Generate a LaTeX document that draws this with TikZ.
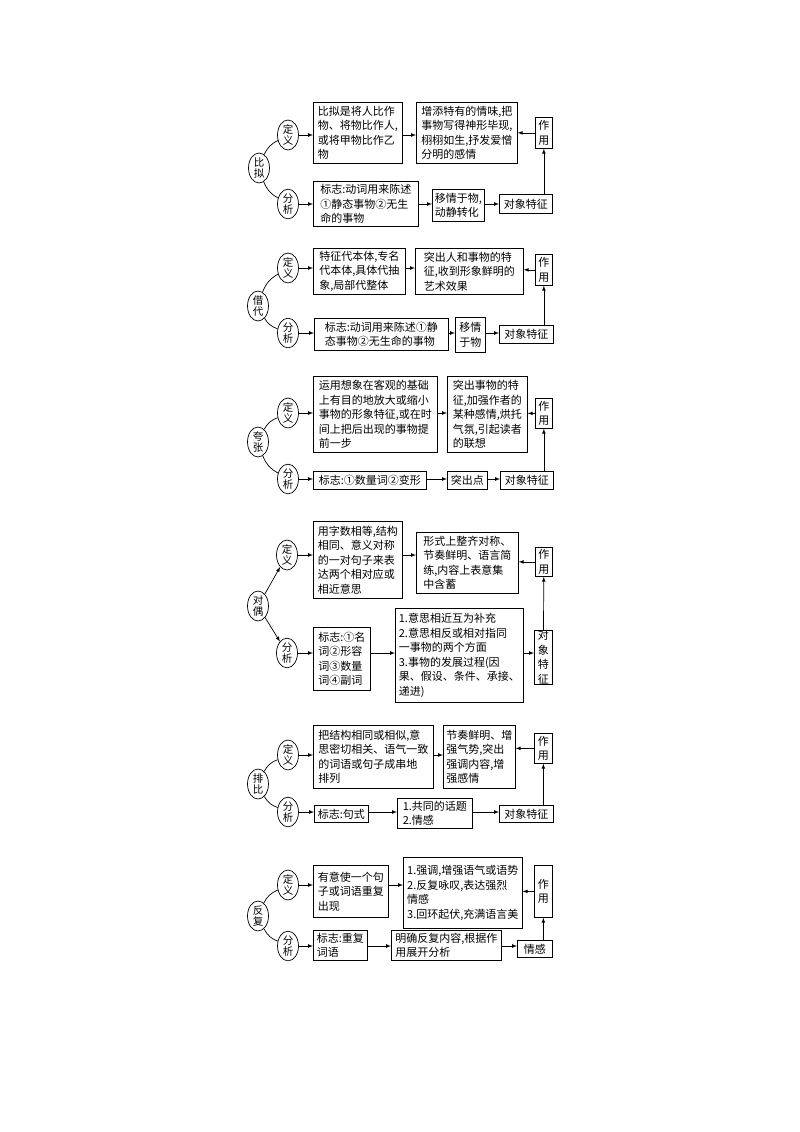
\documentclass[tikz,border=0pt]{standalone}
\usepackage{fontspec}
\setmainfont{Noto Sans CJK SC}
\usetikzlibrary{arrows,shapes.geometric}

\begin{document}
\begin{tikzpicture}[x=1pt, y=-1pt, >=latex,
    kuang/.style={draw, line width=.7pt, anchor=north west, align=left, inner sep=0pt,
      font=\fontsize{11}{14.5}\selectfont},
    quan/.style={draw, ellipse, line width=.7pt, inner sep=0pt, minimum width=21pt,
      minimum height=27pt, align=center, font=\fontsize{10.5}{11.5}\selectfont}]
  \useasboundingbox (0,0) rectangle (800,1132);

  % 比拟
  \node[quan, minimum height=30pt] (A) at (259,168) {比\\拟};
  \node[quan] (AD) at (288,135) {定\\义};
  \node[quan] (AF) at (288,204) {分\\析};
  \node[kuang, minimum width=89pt, minimum height=61pt] (A1) at (313,102) {比拟是将人比作\\物、将物比作人,\\或将甲物比作乙\\物};
  \node[kuang, minimum width=101pt, minimum height=61pt] (A2) at (416,102) {增添特有的情味,把\\事物写得神形毕现,\\栩栩如生,抒发爱憎\\分明的感情};
  \node[kuang, minimum width=17pt, minimum height=31pt] (AZ) at (535,117) {作\\用};
  \node[kuang, minimum width=105pt, minimum height=45pt] (A3) at (313,181) {标志:动词用来陈述\\①静态事物②无生\\命的事物};
  \node[kuang, minimum width=52pt, minimum height=32pt] (A4) at (432,189) {移情于物,\\动静转化};
  \node[kuang, minimum width=53pt, minimum height=19pt] (AT) at (499,194) {对象特征};

  % 借代
  \node[quan, minimum height=30pt] (B) at (258,306) {借\\代};
  \node[quan] (BD) at (288,268) {定\\义};
  \node[quan] (BF) at (288,333) {分\\析};
  \node[kuang, minimum width=92pt, minimum height=46pt] (B1) at (313,248) {特征代本体,专名\\代本体,具体代抽\\象,局部代整体};
  \node[kuang, minimum width=108pt, minimum height=46pt] (B2) at (415,248) {突出人和事物的特\\征,收到形象鲜明的\\艺术效果};
  \node[kuang, minimum width=17pt, minimum height=31pt] (BZ) at (535,254) {作\\用};
  \node[kuang, minimum width=134pt, minimum height=32pt] (B3) at (314,318) {标志:动词用来陈述①静\\态事物②无生命的事物};
  \node[kuang, minimum width=30pt, minimum height=35pt] (B4) at (455,317) {移情\\于物};
  \node[kuang, minimum width=54pt, minimum height=18pt] (BT) at (499,325) {对象特征};

  % 夸张
  \node[quan, minimum height=30pt] (C) at (258,442) {夸\\张};
  \node[quan] (CD) at (288,413) {定\\义};
  \node[quan] (CF) at (288,479) {分\\析};
  \node[kuang, minimum width=124pt, minimum height=76pt] (C1) at (313,376) {运用想象在客观的基础\\上有目的地放大或缩小\\事物的形象特征,或在时\\间上把后出现的事物提\\前一步};
  \node[kuang, minimum width=80pt, minimum height=76pt] (C2) at (447,376) {突出事物的特\\征,加强作者的\\某种感情,烘托\\气氛,引起读者\\的联想};
  \node[kuang, minimum width=17pt, minimum height=30pt] (CZ) at (535,398) {作\\用};
  \node[kuang, minimum width=113pt, minimum height=18pt] (C3) at (313,471) {标志:①数量词②变形};
  \node[kuang, minimum width=40pt, minimum height=18pt] (C4) at (447,471) {突出点};
  \node[kuang, minimum width=53pt, minimum height=18pt] (CT) at (500,471) {对象特征};

  % 对偶
  \node[quan, minimum height=30pt] (D) at (258,606) {对\\偶};
  \node[quan] (DD) at (287,555) {定\\义};
  \node[quan] (DF) at (287,653) {分\\析};
  \node[kuang, minimum width=89pt, minimum height=77pt] (D1) at (313,521) {用字数相等,结构\\相同、意义对称\\的一对句子来表\\达两个相对应或\\相近意思};
  \node[kuang, minimum width=102pt, minimum height=61pt] (D2) at (416,532) {形式上整齐对称、\\节奏鲜明、语言简\\练,内容上表意集\\中含蓄};
  \node[kuang, minimum width=17pt, minimum height=29pt] (DZ) at (535,547) {作\\用};
  \node[kuang, minimum width=57pt, minimum height=63pt] (D3) at (313,627) {标志:①名\\词②形容\\词③数量\\词④副词};
  \node[kuang, minimum width=128pt, minimum height=94pt] (D4) at (395,608) {1.意思相近互为补充\\2.意思相反或相对指同\\一事物的两个方面\\3.事物的发展过程(因\\果、假设、条件、承接、\\递进)};
  \node[kuang, minimum width=18pt, minimum height=52pt] (DT) at (534,630) {对\\象\\特\\征};

  % 排比
  \node[quan, minimum height=30pt] (E) at (258,784) {排\\比};
  \node[quan] (ED) at (288,755) {定\\义};
  \node[quan] (EF) at (288,812) {分\\析};
  \node[kuang, minimum width=120pt, minimum height=63pt] (E1) at (313,725) {把结构相同或相似,意\\思密切相关、语气一致\\的词语或句子成串地\\排列};
  \node[kuang, minimum width=72pt, minimum height=63pt] (E2) at (443,725) {节奏鲜明、增\\强气势,突出\\强调内容,增\\强感情};
  \node[kuang, minimum width=18pt, minimum height=30pt] (EZ) at (534,733) {作\\用};
  \node[kuang, minimum width=54pt, minimum height=17pt] (E3) at (314,805) {标志:句式};
  \node[kuang, minimum width=75pt, minimum height=30pt] (E4) at (397,798) {1.共同的话题\\2.情感};
  \node[kuang, minimum width=54pt, minimum height=17pt] (ET) at (499,805) {对象特征};

  % 反复
  \node[quan, minimum height=30pt] (F) at (258,916) {反\\复};
  \node[quan] (FD) at (288,885) {定\\义};
  \node[quan] (FF) at (288,946) {分\\析};
  \node[kuang, minimum width=75pt, minimum height=52pt] (F1) at (313,865) {有意使一个句\\子或词语重复\\出现};
  \node[kuang, minimum width=119pt, minimum height=71pt] (F2) at (403,857) {1.强调,增强语气或语势\\2.反复咏叹,表达强烈\\情感\\3.回环起伏,充满语言美};
  \node[kuang, minimum width=18pt, minimum height=52pt] (FZ) at (534,865) {作\\用};
  \node[kuang, minimum width=54pt, minimum height=30pt] (F3) at (313,930) {标志:重复\\词语};
  \node[kuang, minimum width=110pt, minimum height=30pt] (F4) at (391,930) {明确反复内容,根据作\\用展开分析};
  \node[kuang, minimum width=35pt, minimum height=17pt] (FT) at (517,940) {情感};

  \tikzset{every path/.style={line width=.7pt}}  % connectors

  % root to 定义 / 分析
  \draw (A) to[bend left=20] (AD);
  \draw (A) to[bend right=20] (AF);
  \draw (B) to[bend left=20] (BD);
  \draw (B) to[bend right=20] (BF);
  \draw (C) to[bend left=20] (CD);
  \draw (C) to[bend right=20] (CF);
  \draw[->] (D) -- (DD);
  \draw[->] (D) -- (DF);
  \draw (E) to[bend left=20] (ED);
  \draw (E) to[bend right=20] (EF);
  \draw (F) to[bend left=20] (FD);
  \draw (F) to[bend right=20] (FF);

  % 比拟
  \draw[->] (AD) -- (AD -| A1.west);
  \draw[->] (A1.east |- AD) -- (A2.west |- AD);
  \draw[->] (AZ) -- (AZ -| A2.east);
  \draw[->] (AF) -- (AF -| A3.west);
  \draw[->] (A3.east |- AF) -- (A4.west |- AF);
  \draw[->] (A4.east |- AF) -- (AT.west |- AF);
  \draw[->] (AT.north -| AZ) -- (AZ);

  % 借代
  \draw[->] (BD) -- (BD -| B1.west);
  \draw[->] (B1.east |- BD) -- (B2.west |- BD);
  \draw[->] (BZ) -- (BZ -| B2.east);
  \draw[->] (BF) -- (BF -| B3.west);
  \draw[->] (B3.east |- BF) -- (B4.west |- BF);
  \draw[->] (B4.east |- BF) -- (BT.west |- BF);
  \draw[->] (BT.north -| BZ) -- (BZ);

  % 夸张
  \draw[->] (CD) -- (CD -| C1.west);
  \draw[->] (C1.east |- CD) -- (C2.west |- CD);
  \draw[->] (CZ) -- (CZ -| C2.east);
  \draw[->] (CF) -- (CF -| C3.west);
  \draw[->] (C3.east |- CF) -- (C4.west |- CF);
  \draw[->] (C4.east |- CF) -- (CT.west |- CF);
  \draw[->] (CT.north -| CZ) -- (CZ);

  % 对偶
  \draw[->] (DD) -- (DD -| D1.west);
  \draw[->] (D1.east |- DD) -- (D2.west |- DD);
  \draw[->] (DZ) -- (DZ -| D2.east);
  \draw[->] (DF) -- (DF -| D3.west);
  \draw[->] (D3.east |- DF) -- (D4.west |- DF);
  \draw[->] (D4.east |- DF) -- (DT.west |- DF);
  \draw[->] (DT) -- (DZ);

  % 排比
  \draw[->] (ED) -- (ED -| E1.west);
  \draw[->] (E1.east |- ED) -- (E2.west |- ED);
  \draw[->] (EZ) -- (EZ -| E2.east);
  \draw[->] (EF) -- (EF -| E3.west);
  \draw[->] (E3.east |- EF) -- (E4.west |- EF);
  \draw[->] (E4.east |- EF) -- (ET.west |- EF);
  \draw[->] (ET.north -| EZ) -- (EZ);

  % 反复
  \draw[->] (FD) -- (FD -| F1.west);
  \draw[->] (F1.east |- FD) -- (F2.west |- FD);
  \draw[->] (FZ) -- (FZ -| F2.east);
  \draw[->] (FF) -- (FF -| F3.west);
  \draw[->] (F3.east |- FF) -- (F4.west |- FF);
  \draw[->] (F4.east |- FF) -- (FT.west |- FF);
  \draw[->] (FT.north -| FZ) -- (FZ);
\end{tikzpicture}
\end{document}
